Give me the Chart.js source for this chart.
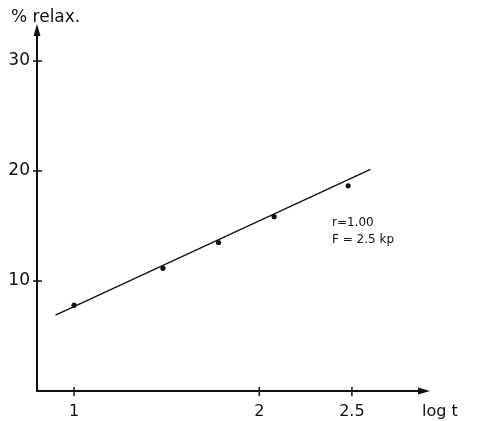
<!DOCTYPE html>
<html>
<head>
<meta charset="utf-8">
<script src="https://cdn.jsdelivr.net/npm/chart.js@4/dist/chart.umd.min.js"></script>
<style>
  html, body { margin: 0; padding: 0; background: #fff; }
  canvas { display: block; }
</style>
</head>
<body>
<canvas id="c" width="478" height="421"></canvas>
<script>
// Measured relaxation (%) against log t
const logT = [1.0, 1.48, 1.78, 2.08, 2.48];
const relax = [7.8, 11.15, 13.5, 15.85, 18.65];

// Regression line end points
const fitX = [0.9, 2.6];
const fitY = [6.9, 20.15];

// Axis ticks
const xTicks = [1, 2, 2.5];
const xTickLabels = ['1', '2', '2.5'];
const yTicks = [10, 20, 30];

const yTitle = '% relax.';
const xTitle = 'log t';
const note = ['r=1.00', 'F = 2.5 kp'];

const ink = '#111';
const font = 'DejaVu Sans';

const axisDecor = {
  id: 'axisDecor',
  afterDraw(chart) {
    const { ctx, chartArea: a, scales } = chart;
    const xs = scales.x, ys = scales.y;
    ctx.save();
    ctx.strokeStyle = ink;
    ctx.fillStyle = ink;
    ctx.lineWidth = 1.5;
    // cross ticks on the y axis
    yTicks.forEach(v => {
      const y = ys.getPixelForValue(v);
      ctx.beginPath();
      ctx.moveTo(a.left - 4, y);
      ctx.lineTo(a.left + 5, y);
      ctx.stroke();
    });
    // cross ticks on the x axis
    xTicks.forEach(v => {
      const x = xs.getPixelForValue(v);
      ctx.beginPath();
      ctx.moveTo(x, a.bottom - 4);
      ctx.lineTo(x, a.bottom + 5);
      ctx.stroke();
    });
    // arrow heads
    ctx.beginPath();
    ctx.moveTo(a.left, a.top - 4);
    ctx.lineTo(a.left - 3.5, a.top + 8);
    ctx.lineTo(a.left + 3.5, a.top + 8);
    ctx.closePath();
    ctx.fill();
    ctx.beginPath();
    ctx.moveTo(a.right + 4, a.bottom);
    ctx.lineTo(a.right - 8, a.bottom - 3.5);
    ctx.lineTo(a.right - 8, a.bottom + 3.5);
    ctx.closePath();
    ctx.fill();
    // axis titles
    ctx.textBaseline = 'alphabetic';
    ctx.textAlign = 'left';
    ctx.font = '17px "' + font + '"';
    ctx.fillText(yTitle, 11, 22);
    ctx.font = '16px "' + font + '"';
    ctx.fillText(xTitle, 422, 416);
    // fit annotation
    ctx.font = '12px "' + font + '"';
    ctx.fillText(note[0], 332, 226);
    ctx.fillText(note[1], 332, 243);
    ctx.restore();
  }
};

new Chart(document.getElementById('c'), {
  type: 'scatter',
  data: {
    datasets: [
      {
        type: 'line',
        data: fitX.map((x, i) => ({ x, y: fitY[i] })),
        borderColor: ink,
        borderWidth: 1.4,
        pointRadius: 0,
        fill: false
      },
      {
        data: logT.map((x, i) => ({ x, y: relax[i] })),
        backgroundColor: ink,
        borderColor: ink,
        pointRadius: 2.6,
        pointBorderWidth: 0
      }
    ]
  },
  options: {
    responsive: false,
    animation: false,
    devicePixelRatio: 1,
    layout: { padding: { left: 0, right: 52, top: 28, bottom: 0 } },
    plugins: { legend: { display: false }, tooltip: { enabled: false } },
    scales: {
      x: {
        type: 'linear',
        min: 0.8,
        max: 2.9,
        afterFit(s) { s.height = 30; },
        afterBuildTicks(s) { s.ticks = xTicks.map(v => ({ value: v })); },
        grid: { display: false, drawTicks: false },
        border: { display: true, color: ink, width: 2 },
        ticks: {
          padding: 11,
          color: ink,
          font: { family: font, size: 16 },
          maxRotation: 0,
          callback: (v) => xTickLabels[xTicks.indexOf(v)]
        }
      },
      y: {
        type: 'linear',
        min: 0,
        max: 33,
        afterFit(s) { s.width = 37; },
        afterBuildTicks(s) { s.ticks = yTicks.map(v => ({ value: v })); },
        grid: { display: false, drawTicks: false },
        border: { display: true, color: ink, width: 2 },
        ticks: {
          padding: 7,
          color: ink,
          font: { family: font, size: 17 }
        }
      }
    }
  },
  plugins: [axisDecor]
});
</script>
</body>
</html>
